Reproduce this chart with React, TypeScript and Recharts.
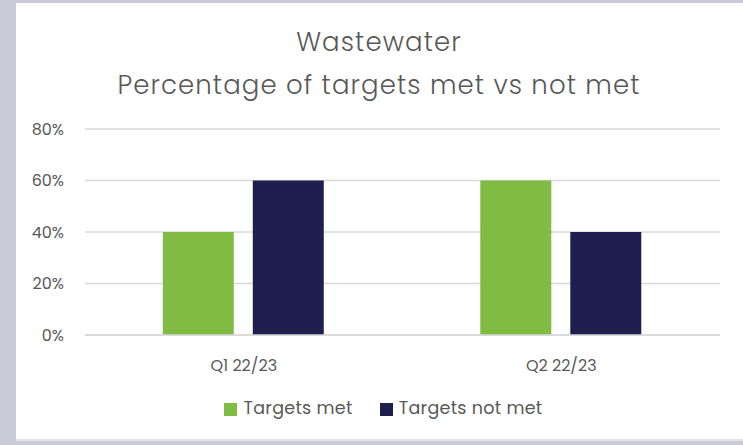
import { Bar, BarChart, CartesianGrid, Legend, XAxis, YAxis } from "recharts";

const categories = ["Q1 22/23", "Q2 22/23"];
const targetsMet = [40, 60];
const targetsNotMet = [60, 40];
const yTicks = [0, 20, 40, 60, 80];

const font = "Poppins, Lato, 'Open Sans', sans-serif";
const textGrey = "#595959";
const grid = "#D9D9D9";

const data = categories.map((name, i) => ({ name, met: targetsMet[i], notMet: targetsNotMet[i] }));

export default function App() {
  return (
    <div style={{ position: "fixed", left: 0, top: 0, width: 743, height: 445, background: "#CACAD9", fontFamily: font }}>
      <div style={{ position: "absolute", left: 16, top: 3, width: 734, height: 436, background: "#FFFFFF", borderBottom: "2px solid #E3E3E8" }}>
        <div style={{ position: "absolute", left: 0, top: 18, width: 726, textAlign: "center", color: textGrey, fontSize: 26, fontWeight: 300, lineHeight: "43px", letterSpacing: 1.1 }}>
          <div>Wastewater</div>
          <div>Percentage of targets met vs not met</div>
        </div>
        <BarChart width={734} height={436} data={data} margin={{ top: 126, right: 30, left: 4, bottom: 18 }} barCategoryGap="24.5%" barGap={19}>
          <CartesianGrid vertical={false} stroke={grid} strokeWidth={1.5} />
          <XAxis dataKey="name" axisLine={{ stroke: grid, strokeWidth: 1.5 }} tickLine={false} height={60} tickMargin={19} tick={{ fill: textGrey, fontSize: 16, fontFamily: font }} />
          <YAxis width={65} domain={[0, 80]} ticks={yTicks} tickFormatter={(v) => `${v}%`} axisLine={false} tickLine={false} tickMargin={15} tick={{ fill: textGrey, fontSize: 16, fontFamily: font }} />
          <Legend verticalAlign="bottom" iconType="square" iconSize={13} wrapperStyle={{ left: 14, width: 734, fontSize: 17.5, color: textGrey, fontFamily: font }} formatter={(value) => <span style={{ color: textGrey, marginLeft: 2, marginRight: 17, letterSpacing: 0.3 }}>{value}</span>} />
          <Bar dataKey="met" name="Targets met" fill="#80BC43" isAnimationActive={false} />
          <Bar dataKey="notMet" name="Targets not met" fill="#1E1F4E" isAnimationActive={false} />
        </BarChart>
      </div>
    </div>
  );
}
